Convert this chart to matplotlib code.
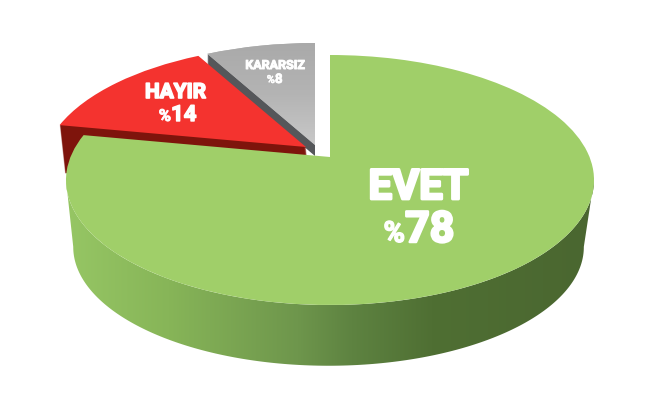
import numpy as np
import matplotlib
matplotlib.use("Agg")
import matplotlib.pyplot as plt
import matplotlib.patheffects as pe
from matplotlib.colors import LinearSegmentedColormap
from matplotlib.patches import Wedge, Polygon
from matplotlib.transforms import Transform, Affine2D

labels = ["EVET", "HAYIR", "KARARSIZ"]
shares = [78, 14, 8]
top_colors = ["#A0CF69", "#F4332F", "#B4B4B4"]
side_colors = [None, "#7E140C", "#55575A"]


class Perspective(Transform):
    """Tilts the unit pie into the picture's ellipse, in pixel-like coordinates."""
    input_dims = 2
    output_dims = 2
    is_separable = False
    has_inverse = False

    def transform_non_affine(self, values):
        v = np.asarray(values, dtype=float)
        w = 1 + 0.184 * v[:, 1]
        return np.column_stack([330 + 259.5 * v[:, 0] / w,
                                (157 - 91.88 * v[:, 1]) / w])


fig = plt.figure(figsize=(6.6, 4.12), dpi=100, facecolor="white")
ax = fig.add_axes([0, 0, 1, 1])
wedges, _ = ax.pie(shares, startangle=90, counterclock=False, radius=1,
                   colors=top_colors, wedgeprops=dict(linewidth=0))
ax.set_aspect("auto")
persp = Perspective()


def placed(dx=0, dy=0):
    return persp + Affine2D().translate(dx, dy) + ax.transData


# slice offsets (exploded slices), in the pixel-like frame
offsets = [(0, 0), (-24, -10), (-15, -12)]

# walls of the exploded slices: sweep a dark copy downward, behind the green
for i, sweep in ((2, 11), (1, 48)):
    w = wedges[i]
    for d in np.arange(1, sweep + 1, 1.0):
        dx = 0.11 * d if i == 1 else 0
        c = Wedge((0, 0), 1, w.theta1, w.theta2, facecolor=side_colors[i], linewidth=0, zorder=1)
        ax.add_patch(c)
        c.set_transform(placed(offsets[i][0] + dx, offsets[i][1] + d))

# wall of the green slice
t = np.radians(np.linspace(180 + 10.5, 360 - 10.5, 200))
unit = np.column_stack([np.cos(t), np.sin(t)])
front = persp.transform(unit)
lower = front.copy()
lower[:, 0] = 329.5 + 0.967 * (front[:, 0] - 331)
lower[:, 1] = 247 + 0.95 * (front[:, 1] - 180)
wall = Polygon(np.vstack([front, lower[::-1]]), closed=True, transform=ax.transData,
               facecolor="none", edgecolor="none")
ax.add_patch(wall)
wall_cmap = LinearSegmentedColormap.from_list("wall", [
    (0.00, "#97C765"), (0.20, "#87B558"), (0.44, "#6E964C"),
    (0.54, "#5E8341"), (0.69, "#4F6F33"), (1.00, "#4A6630")])
im = ax.imshow(np.linspace(0, 1, 256)[None, :], extent=(60, 600, 380, 150), cmap=wall_cmap,
               aspect="auto", zorder=2, interpolation="bilinear")
im.set_clip_path(wall)

# top faces
for w, (dx, dy), z in zip(wedges, offsets, (4, 3, 3)):
    w.set_transform(placed(dx, dy))
    w.set_zorder(z)
    w.set_clip_on(False)

# grey face gradient
grey_cmap = LinearSegmentedColormap.from_list("g", ["#A9A9A9", "#B4B4B4", "#CACACA"])
gi = ax.imshow(np.linspace(0, 1, 64)[:, None], extent=(200, 320, 150, 40), cmap=grey_cmap,
               aspect="auto", zorder=3.5, interpolation="bilinear")
gi.set_clip_path(wedges[2])

ax.set_xlim(0, 660)
ax.set_ylim(412, 0)
ax.axis("off")

face = ["Roboto", "Liberation Sans", "DejaVu Sans"]


def put(x, y, s, size, ha="center", stroke=1.0):
    ax.text(x, y, s, fontsize=size, color="white", fontweight="bold", family=face,
            ha=ha, va="baseline", zorder=6,
            path_effects=[pe.withStroke(linewidth=stroke, foreground="white")])


put(418.5, 199, labels[0], 30, stroke=2.0)
put(405, 242, "%", 21, ha="right", stroke=1.0)
put(405, 242, str(shares[0]), 31, ha="left", stroke=1.8)

put(175.5, 98, labels[1], 15, stroke=1.2)
put(171, 121, "%", 12, ha="right", stroke=0.6)
put(171, 121, str(shares[1]), 16, ha="left", stroke=1.0)

put(275, 69, labels[2], 9, stroke=0.7)
put(275, 83, "%", 8, ha="right", stroke=0.3)
put(275, 83, str(shares[2]), 9.5, ha="left", stroke=0.6)

fig.savefig("out.png", dpi=100, facecolor="white")
